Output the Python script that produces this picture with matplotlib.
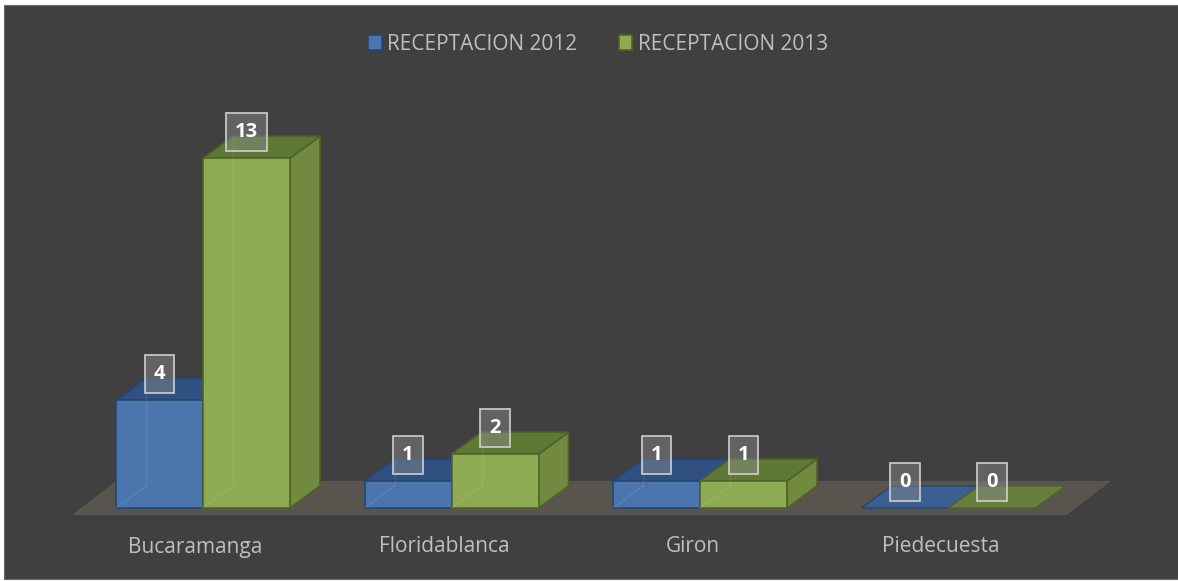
import matplotlib
matplotlib.use("Agg")
import matplotlib.pyplot as plt
from matplotlib.patches import Polygon, Rectangle, Patch

categories = ["Bucaramanga", "Floridablanca", "Giron", "Piedecuesta"]
series_names = ["RECEPTACION 2012", "RECEPTACION 2013"]
values_2012 = [4, 1, 1, 0]
values_2013 = [13, 2, 1, 0]

BG = "#404040"
TXT = "#bfbfbf"
colors = {
    0: dict(front="#4a76ad", top="#2f5080", side="#3a5f8f", edge="#27466e", flat="#3a5f90"),
    1: dict(front="#8eaa53", top="#5f7836", side="#718a3f", edge="#4f6228", flat="#667f3c"),
}

W, H, DPI = 1178, 581, 100
fig = plt.figure(figsize=(W / DPI, H / DPI), dpi=DPI, facecolor="white")
fig.patches.append(Rectangle((4 / W, 2 / H), 1 - 4 / W, 1 - 7 / H, transform=fig.transFigure,
                             facecolor=BG, edgecolor="#6a6a6a", lw=0.8, zorder=-10))
ax = fig.add_axes([0, 0, 1, 1])
ax.set_facecolor("none")
ax.axis("off")

px_x = 248.5   # pixels per category
px_y = 26.9    # pixels per unit
x0px, y0px = 203, 508
ax.set_xlim(-x0px / px_x, (W - x0px) / px_x)
ax.set_ylim(-(H - y0px) / px_y, y0px / px_y)

bw = 87 / px_x
ddx, ddy = 30 / px_x, 22 / px_y

# floor
fdx, fdy = 44 / px_x, 34 / px_y
fl = -0.527
fr = len(categories) - 1 + 0.477
fy = -7 / px_y
ax.add_patch(Polygon([(fl, fy), (fr, fy), (fr + fdx, fy + fdy), (fl + fdx, fy + fdy)],
                     closed=True, facecolor="#58554e", edgecolor="none", zorder=1))


def bar3d(xl, h, c, z):
    x1 = xl + bw
    if h <= 0:
        ax.add_patch(Polygon([(xl, 0), (x1, 0), (x1 + ddx, ddy), (xl + ddx, ddy)], closed=True,
                             facecolor=c["flat"], edgecolor=c["edge"], lw=1, zorder=z))
        return
    ax.add_patch(Polygon([(x1, 0), (x1 + ddx, ddy), (x1 + ddx, h + ddy), (x1, h)], closed=True,
                         facecolor=c["side"], edgecolor=c["edge"], lw=1.2, zorder=z))
    ax.add_patch(Polygon([(xl, h), (x1, h), (x1 + ddx, h + ddy), (xl + ddx, h + ddy)], closed=True,
                         facecolor=c["top"], edgecolor=c["edge"], lw=1.2, zorder=z))
    ax.add_patch(Rectangle((xl, 0), bw, h, facecolor=c["front"], edgecolor=c["edge"], lw=1.2, zorder=z + 0.1))
    # faint hidden back edges (transparency hint)
    ax.plot([xl + ddx, xl + ddx], [ddy, h + ddy], color="white", alpha=0.08, lw=1, zorder=z + 0.2)
    ax.plot([xl, xl + ddx], [0, ddy], color="white", alpha=0.08, lw=1, zorder=z + 0.2)


def label(xc, h, v):
    s = str(v)
    yc = h + 26 / px_y
    bwid = (18 + 11.5 * len(s)) / px_x
    bh = 38 / px_y
    ax.add_patch(Rectangle((xc - bwid / 2, yc - bh / 2), bwid, bh, facecolor=(0.55, 0.55, 0.55, 0.45),
                           edgecolor="#cfcfcf", lw=1.2, zorder=20))
    ax.text(xc, yc, s, ha="center", va="center", color="white", fontsize=14.5,
            fontweight="bold", family=["Open Sans", "DejaVu Sans"], zorder=21)


for i, cat in enumerate(categories):
    for s, vals in enumerate([values_2012, values_2013]):
        xl = i - bw + s * bw
        bar3d(xl, vals[i], colors[s], 5 + i * 2 + s)
    for s, vals in enumerate([values_2012, values_2013]):
        xl = i - bw + s * bw
        label(xl + bw / 2, vals[i], vals[i])
    ax.text(i - 0.03, -39 / px_y, cat, ha="center", va="center", color=TXT, fontsize=15,
            family=["Open Sans", "DejaVu Sans"])

handles = [Patch(facecolor=colors[s]["front"], edgecolor=colors[s]["edge"], lw=1.2) for s in range(2)]
leg = fig.legend(handles, series_names, loc="center", bbox_to_anchor=(598 / W, 1 - 44 / H), ncol=2,
                 frameon=False, handlelength=0.65, handleheight=0.75, handletextpad=0.25,
                 columnspacing=2.0, prop=dict(family=["Open Sans", "DejaVu Sans"], size=15))
for t in leg.get_texts():
    t.set_color(TXT)

fig.savefig("out.png", dpi=DPI, facecolor="white")
